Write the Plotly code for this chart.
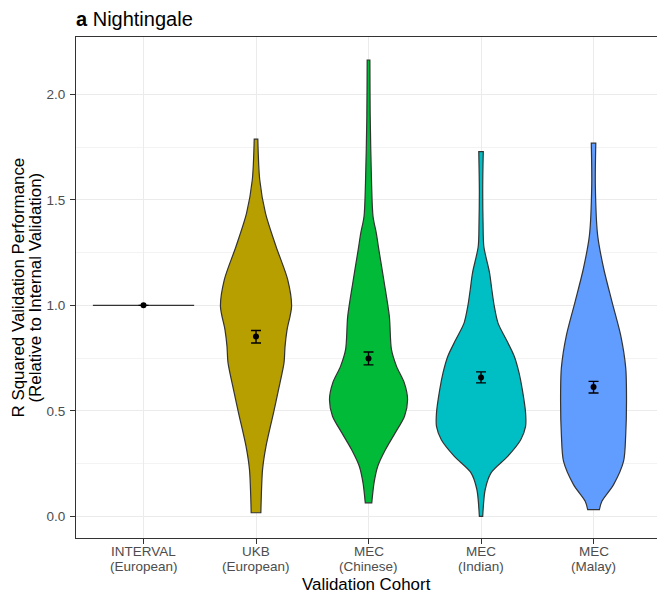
import plotly.graph_objects as go

# Cohorts shown along the x axis (two-line labels)
cohort_names = ["INTERVAL", "UKB", "MEC", "MEC", "MEC"]
cohort_groups = ["(European)", "(European)", "(Chinese)", "(Indian)", "(Malay)"]
fill_colors = [None, "#B79F00", "#00BA38", "#00BFC4", "#619CFF"]

# Violin density profiles: R squared level and half-width (in category units)
ukb_y = [1.787, 1.595, 1.437, 1.279, 1.121, 0.995, 0.885, 0.806, 0.729, 0.601, 0.492, 0.333, 0.222, 0.096, 0.018]
ukb_hw = [0.016, 0.033, 0.084, 0.178, 0.282, 0.316, 0.276, 0.258, 0.249, 0.200, 0.156, 0.089, 0.058, 0.047, 0.043]

chn_y = [2.162, 1.894, 1.579, 1.421, 1.342, 1.263, 1.106, 0.948, 0.790, 0.711, 0.633, 0.554, 0.475, 0.396, 0.317, 0.238, 0.159, 0.065]
chn_hw = [0.012, 0.015, 0.027, 0.040, 0.069, 0.092, 0.140, 0.185, 0.204, 0.249, 0.318, 0.347, 0.320, 0.237, 0.151, 0.082, 0.049, 0.029]

ind_y = [1.728, 1.547, 1.390, 1.279, 1.153, 1.074, 0.995, 0.916, 0.837, 0.758, 0.680, 0.601, 0.491, 0.427, 0.364, 0.285, 0.207, 0.128, 0.001]
ind_hw = [0.020, 0.015, 0.018, 0.025, 0.076, 0.096, 0.118, 0.151, 0.225, 0.296, 0.338, 0.367, 0.396, 0.396, 0.353, 0.237, 0.089, 0.037, 0.015]

mal_y = [1.768, 1.571, 1.334, 1.177, 1.019, 0.861, 0.704, 0.546, 0.388, 0.262, 0.151, 0.072, 0.033]
mal_hw = [0.020, 0.016, 0.036, 0.089, 0.163, 0.240, 0.286, 0.293, 0.286, 0.267, 0.178, 0.074, 0.052]

# INTERVAL is the reference cohort: every value equals 1
interval_value = 1.0
interval_hw = 0.45

# Mean and standard-error bounds per cohort
means = [1.0, 0.853, 0.748, 0.659, 0.614]
upper = [1.0, 0.881, 0.779, 0.685, 0.640]
lower = [1.0, 0.822, 0.718, 0.633, 0.585]

profiles = [None, (ukb_y, ukb_hw), (chn_y, chn_hw), (ind_y, ind_hw), (mal_y, mal_hw)]

FONT = "Liberation Sans, Arial, sans-serif"
outline = "#333333"

fig = go.Figure()

for i, prof in enumerate(profiles):
    pos = i + 1
    if prof is None:
        fig.add_trace(go.Scatter(
            x=[pos - interval_hw, pos + interval_hw], y=[interval_value, interval_value],
            mode="lines", line=dict(color=outline, width=1.2), hoverinfo="skip",
            showlegend=False))
        continue
    ys, hws = prof
    # right side bottom -> top, then left side top -> bottom;
    # end points are repeated so the flat caps keep sharp corners
    right_x = [pos + h for h in hws[::-1]]
    right_y = list(ys[::-1])
    left_x = [pos - h for h in hws]
    left_y = list(ys)
    xs = ([right_x[0]] + right_x + [right_x[-1]]
          + [left_x[0]] + left_x + [left_x[-1]] + [right_x[0]])
    yv = ([right_y[0]] + right_y + [right_y[-1]]
          + [left_y[0]] + left_y + [left_y[-1]] + [right_y[0]])
    fig.add_trace(go.Scatter(
        x=xs, y=yv, mode="lines", fill="toself", fillcolor=fill_colors[i],
        line=dict(color=outline, width=1.2, shape="spline", smoothing=0.8, simplify=False),
        hoverinfo="skip", showlegend=False))

positions = list(range(1, len(cohort_names) + 1))
fig.add_trace(go.Scatter(
    x=positions, y=means, mode="markers",
    marker=dict(color="black", size=6),
    error_y=dict(type="data", symmetric=False,
                 array=[u - m for u, m in zip(upper, means)],
                 arrayminus=[m - l for m, l in zip(means, lower)],
                 color="black", thickness=1.4, width=5),
    showlegend=False))

tick_font = dict(family=FONT, size=13.5, color="#4D4D4D")
title_font = dict(family=FONT, size=16.9, color="#000000")

PLOT_BOTTOM = 538  # pixel row of the x axis line

# x tick labels, two tightly spaced lines under each category
for pos, name, grp in zip(positions, cohort_names, cohort_groups):
    for txt, ypx in ((name, 551), (grp, 566)):
        fig.add_annotation(
            text=txt, xref="x", yref="paper", x=pos, y=0, yshift=PLOT_BOTTOM - ypx,
            xanchor="center", yanchor="middle", showarrow=False, font=tick_font)

# x-axis title
fig.add_annotation(
    text="Validation Cohort", xref="paper", yref="paper", x=0.5, y=0,
    yshift=PLOT_BOTTOM - 584, xanchor="center", yanchor="middle",
    showarrow=False, font=title_font)

# y-axis title, two lines set tightly
y_title_lines = ["R Squared Validation Performance", "(Relative to Internal Validation)"]
for txt, xpx in zip(y_title_lines, [18, 35]):
    fig.add_annotation(
        text=txt, textangle=-90, xref="paper", yref="paper",
        x=0, xshift=xpx - 76, xanchor="center", y=0.5, yanchor="middle",
        showarrow=False, font=title_font)

fig.update_layout(
    width=657, height=596,
    margin=dict(l=76, r=0, t=37, b=58),
    paper_bgcolor="white", plot_bgcolor="white",
    font=dict(family=FONT),
    title=dict(text="<b>a</b> Nightingale", x=76 / 657, xanchor="left",
               y=1 - 19 / 596, yanchor="middle",
               font=dict(family=FONT, size=20, color="#000000")),
    xaxis=dict(
        range=[0.4, 5.564], tickmode="array", tickvals=positions,
        showticklabels=False, ticks="outside", ticklen=5, tickcolor="#333333",
        showgrid=True, gridcolor="#EBEBEB", gridwidth=1, zeroline=False,
        showline=True, linecolor="#333333", linewidth=1, mirror=True),
    yaxis=dict(
        range=[-0.1017, 2.271], tickmode="array", tickvals=[0, 0.5, 1.0, 1.5, 2.0],
        ticktext=["0.0", "0.5", "1.0", "1.5", "2.0"],
        tickfont=tick_font, ticks="outside", ticklen=5, tickcolor="#333333",
        ticklabelstandoff=2,
        showgrid=True, gridcolor="#EBEBEB", gridwidth=1, zeroline=False,
        minor=dict(tickmode="array", tickvals=[0.25, 0.75, 1.25, 1.75],
                   showgrid=True, gridcolor="#F3F3F3", gridwidth=0.6, ticks=""),
        showline=True, linecolor="#333333", linewidth=1, mirror=True),
)

fig.write_html("out.html")
